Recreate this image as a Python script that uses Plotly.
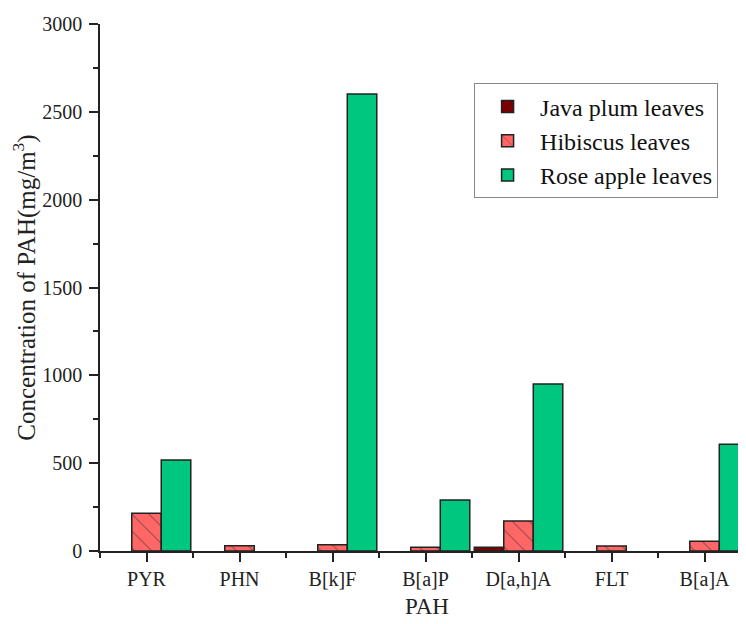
import plotly.graph_objects as go

categories = ["PYR", "PHN", "B[k]F", "B[a]P", "D[a,h]A", "FLT", "B[a]A"]
java_plum = [0, 0, 0, 0, 21, 0, 0]
hibiscus = [215, 30, 36, 21, 171, 28, 55]
rose_apple = [518, 0, 2601, 290, 950, 0, 607]
y_ticks = [0, 500, 1000, 1500, 2000, 2500, 3000]

xpos = list(range(len(categories)))
font = "Liberation Serif"


def nz(vals):
    return [v if v else None for v in vals]


fig = go.Figure()
fig.add_trace(go.Bar(
    x=xpos, y=nz(java_plum), name="Java plum leaves",
    marker=dict(color="#800000", line=dict(color="#222222", width=1.5),
                pattern=dict(shape="/", fgcolor="#111111", fillmode="overlay", size=8, solidity=0.14)),
))
fig.add_trace(go.Bar(
    x=xpos, y=nz(hibiscus), name="Hibiscus leaves",
    marker=dict(color="#FF6666", line=dict(color="#222222", width=1.5),
                pattern=dict(shape="\\", fgcolor="#333333", fillmode="overlay", size=12, solidity=0.1)),
))
fig.add_trace(go.Bar(
    x=xpos, y=nz(rose_apple), name="Rose apple leaves",
    marker=dict(color="#00C780", line=dict(color="#222222", width=1.5)),
))

fig.update_layout(
    width=746, height=624,
    margin=dict(l=92, r=0, t=16, b=81),
    paper_bgcolor="white", plot_bgcolor="white",
    barmode="group", bargap=0.048, bargroupgap=0,
    font=dict(family=font, size=20, color="#222222"),
    legend=dict(
        x=0.572, y=0.778, xanchor="left", yanchor="middle",
        bordercolor="#888888", borderwidth=1, bgcolor="white",
        font=dict(family=font, size=24, color="#111111"),
        itemwidth=55, tracegroupgap=0,
    ),
    xaxis=dict(
        range=[-0.5, 6.532], automargin=False,
        tickmode="array", tickvals=xpos, ticktext=categories,
        showline=True, linecolor="#222222", linewidth=1.5,
        ticks="outside", ticklen=9, tickwidth=1.5, tickcolor="#222222",
        minor=dict(tickmode="linear", tick0=0.5, dtick=1, ticks="outside",
                   ticklen=5, tickwidth=1.5, tickcolor="#222222"),
        showgrid=False, zeroline=False,
        tickfont=dict(family=font, size=20),
        title=dict(text="PAH", font=dict(family=font, size=23), standoff=9),
    ),
    yaxis=dict(
        range=[0, 3000], automargin=False,
        tickmode="array", tickvals=y_ticks,
        showline=True, linecolor="#222222", linewidth=1.5,
        ticks="outside", ticklen=9, tickwidth=1.5, tickcolor="#222222",
        ticklabelstandoff=3,
        minor=dict(tickmode="linear", tick0=0, dtick=250, ticks="outside",
                   ticklen=5, tickwidth=1.5, tickcolor="#222222"),
        showgrid=False, zeroline=False,
        tickfont=dict(family=font, size=20),
        title=dict(text="Concentration of PAH(mg/m<sup>3</sup>)",
                   font=dict(family=font, size=25), standoff=3),
    ),
)

fig.write_html("out.html")
